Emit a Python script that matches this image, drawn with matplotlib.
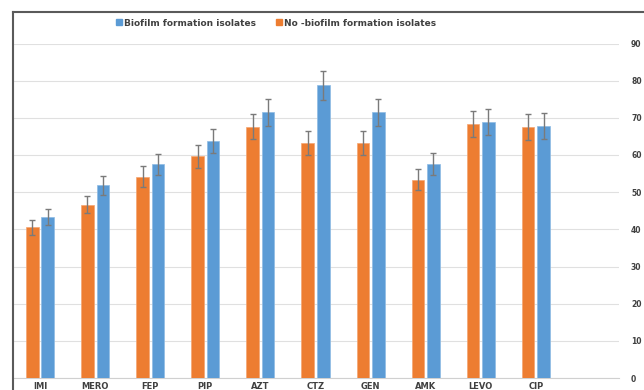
import numpy as np
import matplotlib
matplotlib.use("Agg")
import matplotlib.pyplot as plt
from matplotlib.lines import Line2D

# data
antibioticos = ['IMI', 'MERO', 'FEP', 'PIP', 'AZT', 'CTZ', 'GEN', 'AMK', 'LEVO', 'CIP']
no_biofilm = [40.5, 46.6, 54.2, 59.6, 67.6, 63.2, 63.2, 53.4, 68.3, 67.5]
no_biofilm_err = [2.1, 2.3, 2.8, 3.1, 3.4, 3.2, 3.2, 2.8, 3.5, 3.5]
biofilm = [43.3, 51.8, 57.5, 63.7, 71.5, 78.7, 71.5, 57.6, 68.9, 67.7]
biofilm_err = [2.2, 2.6, 2.9, 3.2, 3.6, 4.0, 3.6, 2.9, 3.5, 3.5]
y_ticks = [0, 10, 20, 30, 40, 50, 60, 70, 80, 90]

naranja = '#ED7D31'
azul = '#5B9BD5'
gris_txt = '#404040'

fig = plt.figure(figsize=(6.44, 3.9), dpi=100)
ax = fig.add_axes([12.5 / 644, 12 / 390, 606 / 644, 334.5 / 390])

x = np.arange(len(antibioticos))
w = 0.23
err_kw = dict(ecolor='#7a7a7a', elinewidth=1, capsize=2.5, capthick=1)

ax.bar(x - 0.14, no_biofilm, w, yerr=no_biofilm_err, color=naranja,
       edgecolor='#f4a672', linewidth=0.5, error_kw=err_kw, zorder=3)
ax.bar(x + 0.14, biofilm, w, yerr=biofilm_err, color=azul,
       edgecolor='#8fbce4', linewidth=0.5, error_kw=err_kw, zorder=3)

ax.set_xlim(-0.5, 10.5)
ax.set_ylim(0, 90)
ax.set_yticks(y_ticks)
ax.yaxis.tick_right()
ax.tick_params(axis='y', length=0, pad=9, labelsize=5.5, labelcolor=gris_txt)
ax.tick_params(axis='x', length=0, pad=3, labelsize=6, labelcolor=gris_txt)
for lab in ax.get_yticklabels():
    lab.set_fontweight('bold')
ax.set_xticks(x)
ax.set_xticklabels(antibioticos, fontweight='bold')

ax.grid(axis='y', color='#e0e0e0', linewidth=0.8, zorder=0)
for s in ['top', 'right', 'left']:
    ax.spines[s].set_visible(False)
ax.spines['bottom'].set_color('#d0d0d0')
ax.spines['bottom'].set_linewidth(0.8)

# marco del grafico (solo izquierda y arriba visibles)
fig.add_artist(Line2D([13 / 644, 13 / 644], [0, 378 / 390], color='#5a5a5a', linewidth=1.5))
fig.add_artist(Line2D([13 / 644, 1], [378 / 390, 378 / 390], color='#5a5a5a', linewidth=1.5))

# leyenda
handles = [Line2D([], [], marker='s', linestyle='', color=azul, markersize=4),
           Line2D([], [], marker='s', linestyle='', color=naranja, markersize=4)]
fig.legend(handles, ['Biofilm formation isolates', 'No -biofilm formation isolates'],
           loc='center', bbox_to_anchor=(276 / 644, 367 / 390), ncol=2, frameon=False,
           prop={'size': 6.5, 'weight': 'bold'}, labelcolor=gris_txt,
           handletextpad=0.1, columnspacing=2.2, handlelength=0.8)

fig.savefig('out.png', dpi=100)
